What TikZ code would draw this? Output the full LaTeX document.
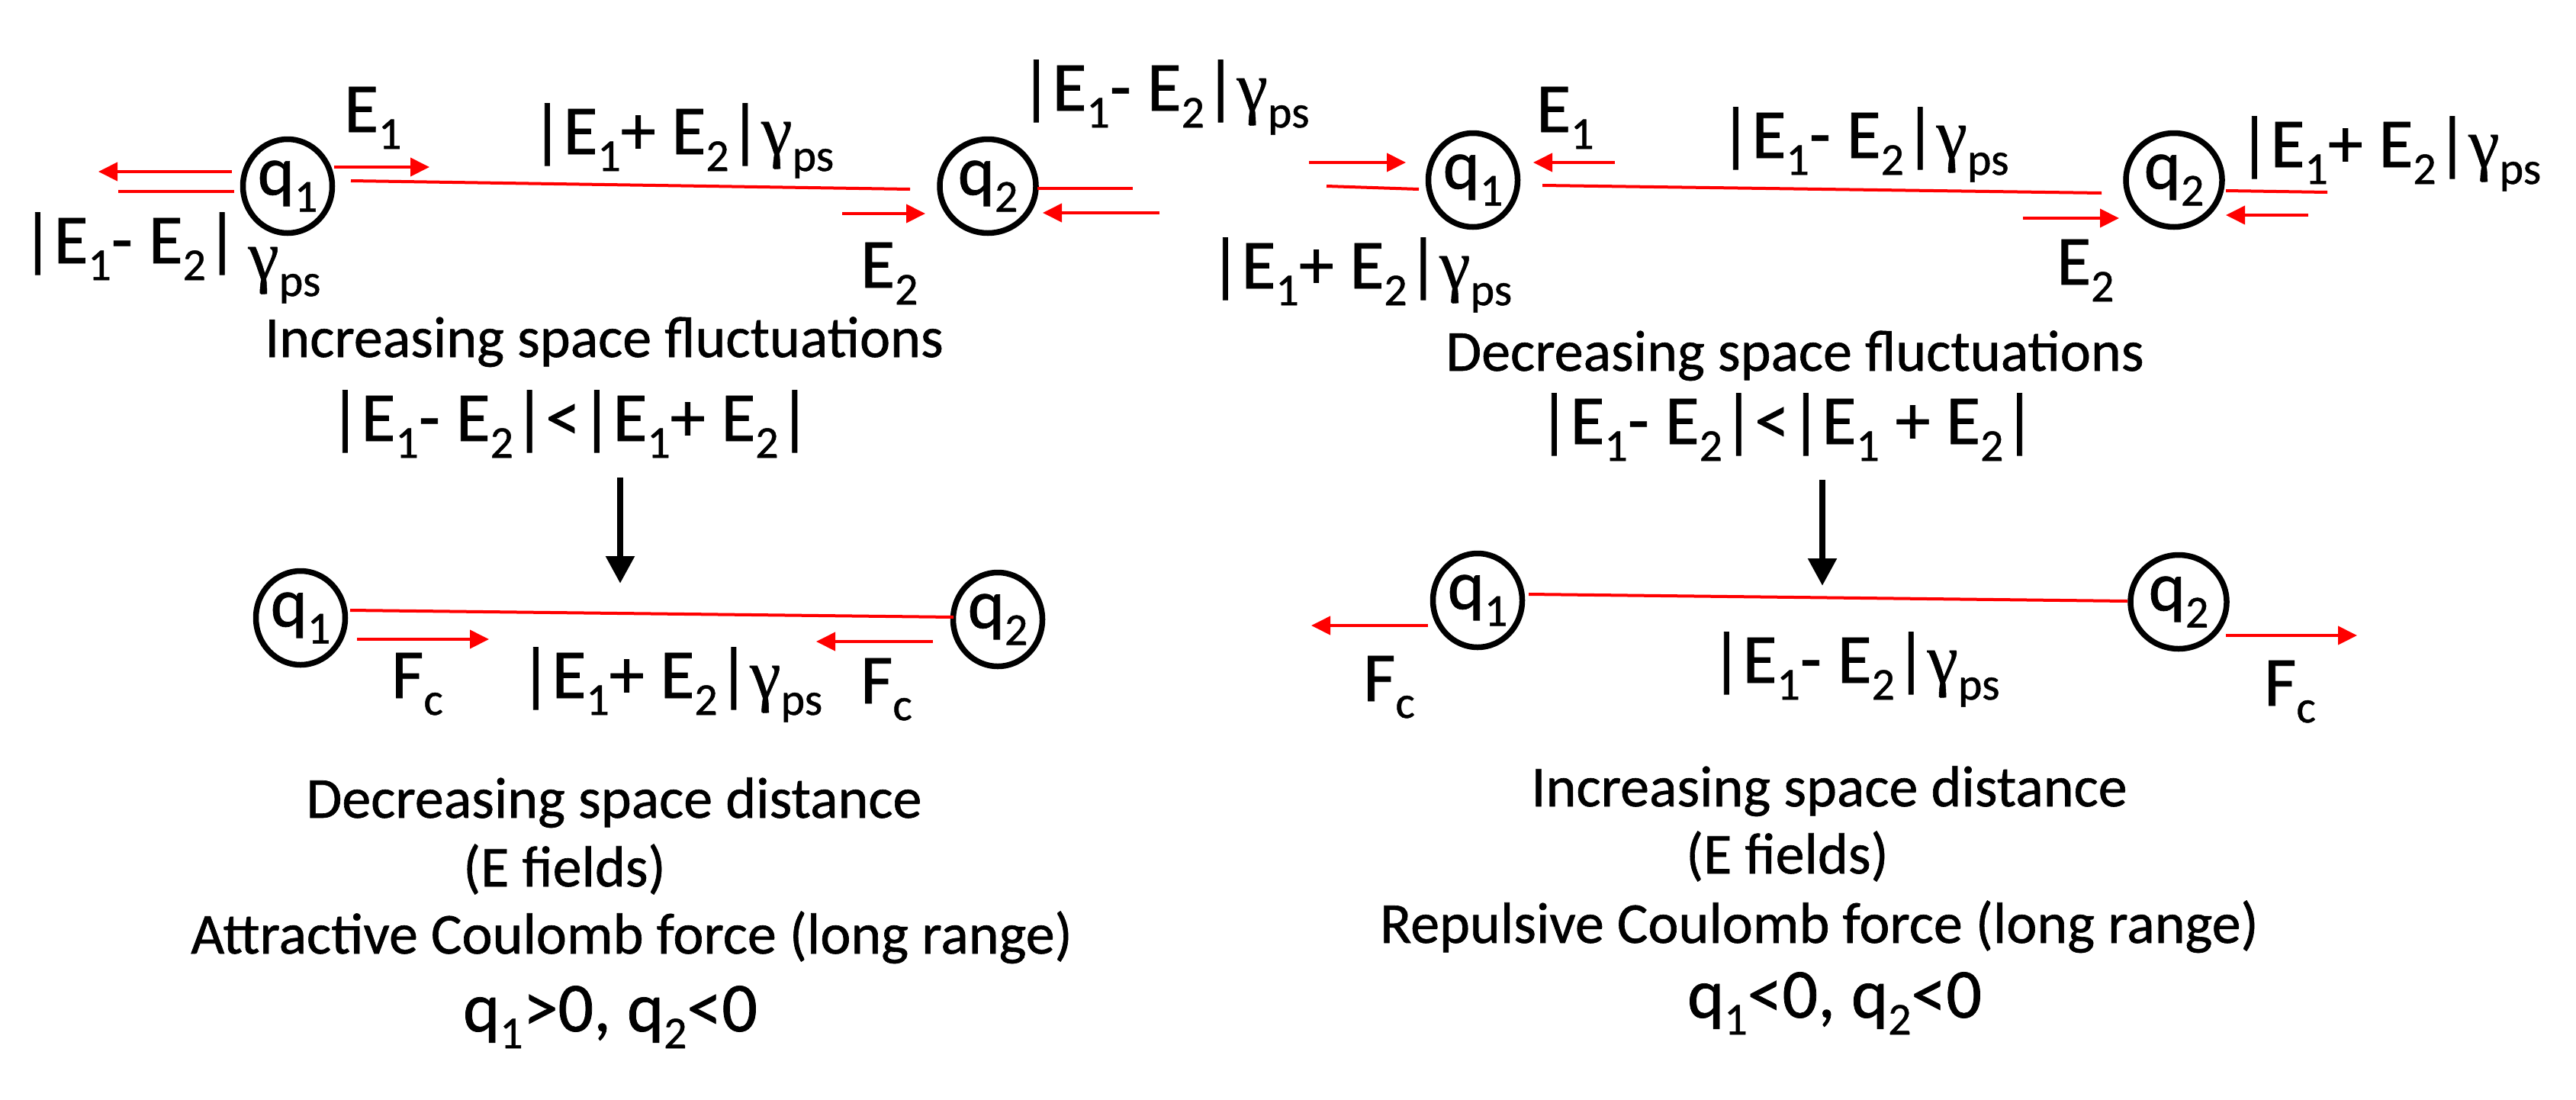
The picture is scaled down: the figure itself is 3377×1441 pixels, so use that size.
\documentclass[tikz,border=0pt]{standalone}
\usepackage{fontspec}
\setmainfont{Carlito}[FakeBold=0.8]
\newfontfamily\gfont{Liberation Serif}[FakeBold=0.5]
\usepackage{graphicx}
\usetikzlibrary{shapes.geometric,arrows.meta}
\newcommand\sbs[1]{\raisebox{-0.24em}{\scalebox{0.65}{#1}}}
\newcommand\labfont{\fontsize{92}{110}\selectfont}
\newcommand\ttlfont{\fontsize{76}{91}\selectfont}
\newcommand\gps{{\gfont γ}\sbs{ps}}
\newcommand\Eone{E\sbs{1}}
\newcommand\Etwo{E\sbs{2}}
\begin{document}
\begin{tikzpicture}[x=1pt,y=-1pt,
  charge/.style={ellipse,draw,line width=7.5pt,minimum width=117pt,minimum height=123pt,inner sep=0pt,font=\labfont},
  wide/.style={minimum width=126pt},
  lab/.style={anchor=base west,inner sep=0pt,font=\labfont},
  ttl/.style={anchor=base,inner sep=0pt,font=\ttlfont},
  ttlw/.style={anchor=base west,inner sep=0pt,font=\ttlfont},
  fl/.style={red,line width=4pt},
  fa/.style={fl,-{Triangle[length=25pt,width=24pt]}},
  bigarrow/.style={line width=8.5pt,-{Triangle[length=36pt,width=36pt]}}]
\useasboundingbox (0,0) rectangle (3377,1441);

% ---------------- top left ----------------
\node[charge] (tq1) at (377,244) {q\sbs{1}};
\node[charge,wide] (tq2) at (1295,244) {q\sbs{2}};
\coordinate (a1s) at (304,225); \coordinate (a1e) at (129,225);
\coordinate (l1s) at (155,251); \coordinate (l1e) at (307,251);
\coordinate (a2s) at (438,219); \coordinate (a2e) at (563,219);
\coordinate (m1s) at (460,237); \coordinate (m1e) at (1193,248);
\coordinate (a3s) at (1104,280); \coordinate (a3e) at (1213,280);
\coordinate (l2s) at (1360,247); \coordinate (l2e) at (1485,247);
\coordinate (a4s) at (1520,279); \coordinate (a4e) at (1367,279);
\draw[fa] (a1s) -- (a1e);
\draw[fl] (l1s) -- (l1e);
\draw[fa] (a2s) -- (a2e);
\draw[fl] (m1s) -- (m1e);
\draw[fa] (a3s) -- (a3e);
\draw[fl] (l2s) -- (l2e);
\draw[fa] (a4s) -- (a4e);
\node[lab] (tE1) at (451,173) {\Eone};
\node[lab] (tsum) at (696,202) {|\Eone+ \Etwo|\gps};
\node[lab] (tdif) at (28,345) {|\Eone- \Etwo|};
\node[lab] (tdifg) at (325,366) {\gps};
\node[lab] (tE2) at (1128,377) {\Etwo};
\node[lab] (mdif) at (1337,145) {|\Eone- \Etwo|\gps};
\node[lab] (msum) at (1585,378) {|\Eone+ \Etwo|\gps};
\node[ttl] (tinc) at (792,468) {Increasing space fluctuations};
\node[lab] (tineq) at (431,578) {|\Eone- \Etwo|<|\Eone+ \Etwo|};

% ---------------- top right ----------------
\node[charge] (rq1) at (1931,236) {q\sbs{1}};
\node[charge,wide] (rq2) at (2850,236) {q\sbs{2}};
\coordinate (a5s) at (1716,213); \coordinate (a5e) at (1843,213);
\coordinate (l3s) at (1739,244); \coordinate (l3e) at (1860,248);
\coordinate (a6s) at (2117,213); \coordinate (a6e) at (2010,213);
\coordinate (m2s) at (2022,243); \coordinate (m2e) at (2755,253);
\coordinate (a7s) at (2652,286); \coordinate (a7e) at (2778,286);
\coordinate (l4s) at (2918,250); \coordinate (l4e) at (3051,252);
\coordinate (a8s) at (3026,282); \coordinate (a8e) at (2918,282);
\draw[fa] (a5s) -- (a5e);
\draw[fl] (l3s) -- (l3e);
\draw[fa] (a6s) -- (a6e);
\draw[fl] (m2s) -- (m2e);
\draw[fa] (a7s) -- (a7e);
\draw[fl] (l4s) -- (l4e);
\draw[fa] (a8s) -- (a8e);
\node[lab] (rE1) at (2014,173) {\Eone};
\node[lab] (rdif) at (2254,207) {|\Eone- \Etwo|\gps};
\node[lab] (rE2) at (2696,373) {\Etwo};
\node[lab] (rsum) at (2934,219) {|\Eone+ \Etwo|\gps};
\node[ttl] (rdec) at (2353,486) {Decreasing space fluctuations};
\node[lab] (rineq) at (2016,582) {|\Eone- \Etwo|<|\Eone{} + \Etwo|};

% ---------------- big arrows ----------------
\coordinate (b1s) at (813,626); \coordinate (b1e) at (813,765);
\coordinate (b2s) at (2389,629); \coordinate (b2e) at (2389,768);
\draw[bigarrow] (b1s) -- (b1e);
\draw[bigarrow] (b2s) -- (b2e);

% ---------------- bottom left ----------------
\node[charge] (bq1) at (394,810) {q\sbs{1}};
\node[charge] (bq2) at (1308,812) {q\sbs{2}};
\coordinate (m3s) at (459,800); \coordinate (m3e) at (1250,809);
\coordinate (a9s) at (468,838); \coordinate (a9e) at (641,838);
\coordinate (a10s) at (1223,841); \coordinate (a10e) at (1070,841);
\draw[fl] (m3s) -- (m3e);
\draw[fa] (a9s) -- (a9e);
\draw[fa] (a10s) -- (a10e);
\node[lab] (bF1) at (513,915) {F\sbs{c}};
\node[lab] (bsum) at (681,915) {|\Eone+ \Etwo|\gps};
\node[lab] (bF2) at (1128,922) {F\sbs{c}};
\node[ttl] (bl1) at (805,1072) {Decreasing space distance};
\node[ttlw] (bl2) at (607,1162) {(E fields)};
\node[ttl] (bl3) at (828,1250) {Attractive Coulomb force (long range)};
\node[lab,anchor=base] (bl4) at (800,1352) {q\sbs{1}>0, q\sbs{2}<0};

% ---------------- bottom right ----------------
\node[charge] (sq1) at (1937,787) {q\sbs{1}};
\node[charge,wide] (sq2) at (2856,789) {q\sbs{2}};
\coordinate (m4s) at (2004,779); \coordinate (m4e) at (2789,788);
\coordinate (a11s) at (1872,820); \coordinate (a11e) at (1719,820);
\coordinate (a12s) at (2918,833); \coordinate (a12e) at (3090,833);
\draw[fl] (m4s) -- (m4e);
\draw[fa] (a11s) -- (a11e);
\draw[fa] (a12s) -- (a12e);
\node[lab] (sF1) at (1787,919) {F\sbs{c}};
\node[lab] (sdif) at (2242,895) {|\Eone- \Etwo|\gps};
\node[lab] (sF2) at (2968,925) {F\sbs{c}};
\node[ttl] (br1) at (2398,1057) {Increasing space distance};
\node[ttlw] (br2) at (2210,1145) {(E fields)};
\node[ttl] (br3) at (2385,1236) {Repulsive Coulomb force (long range)};
\node[lab,anchor=base] (br4) at (2405,1334) {q\sbs{1}<0, q\sbs{2}<0};
\end{tikzpicture}
\end{document}
